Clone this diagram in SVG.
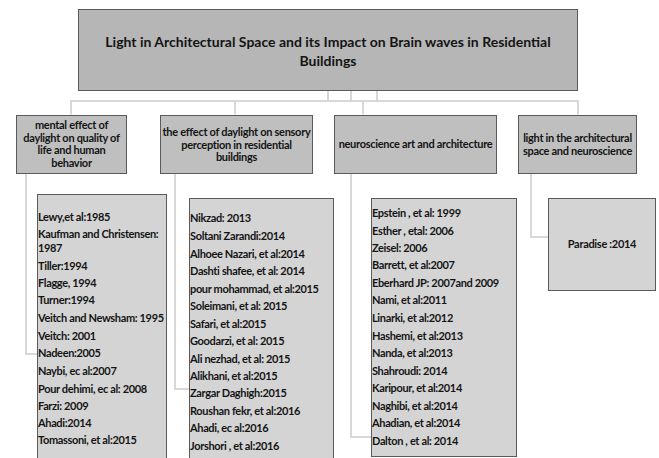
<svg xmlns="http://www.w3.org/2000/svg" width="659" height="458" viewBox="0 0 659 458">
<style>
.title{fill:#b6b6b6;stroke:#5a5a5a;stroke-width:1}
.cat{fill:#bfbfbf;stroke:#5a5a5a;stroke-width:1}
.list{fill:#d4d4d4;stroke:#5a5a5a;stroke-width:1}
text{font-family:Lato,"Liberation Sans",sans-serif;font-weight:bold;fill:#141414}
.tt{font-size:14px;text-anchor:middle}
.ct{font-size:11px;letter-spacing:-0.3px;text-anchor:middle}
.lt{font-size:11px;letter-spacing:-0.35px}
.conn{fill:none;stroke:#cccccc;stroke-width:1.5}
</style>
<rect width="659" height="458" fill="#ffffff"/>
<g id="connectors">
<path class="conn" d="M328 90.5V101M351 90.5V101M377 90.5V101M71 114.5V101H578V114.5M235 101V114.5M363 101V114.5"/>
<path class="conn" d="M26 174V354H37"/>
<path class="conn" d="M175 174V389H189"/>
<path class="conn" d="M351 174V437H371"/>
<path class="conn" d="M531 174V237H548"/>
</g>
<g id="root">
<rect class="title" x="78.5" y="9.5" width="499" height="81"/>
<text class="tt" x="328" y="47">Light in Architectural Space and its Impact on Brain waves in Residential</text>
<text class="tt" x="328" y="66">Buildings</text>
</g>
<g id="cat1">
<rect class="cat" x="16.5" y="115.5" width="110" height="58"/>
<text class="ct" x="71.5" y="129">mental effect of</text>
<text class="ct" x="71.5" y="141.5">daylight on quality of</text>
<text class="ct" x="71.5" y="154">life and human</text>
<text class="ct" x="71.5" y="166.5">behavior</text>
</g>
<g id="cat2">
<rect class="cat" x="160.5" y="115.5" width="152" height="58"/>
<text class="ct" x="236.5" y="136">the effect of daylight on sensory</text>
<text class="ct" x="236.5" y="148.5">perception in residential</text>
<text class="ct" x="236.5" y="161">buildings</text>
</g>
<g id="cat3">
<rect class="cat" x="334.5" y="115.5" width="162" height="58"/>
<text class="ct" x="415.5" y="148">neuroscience art and architecture</text>
</g>
<g id="cat4">
<rect class="cat" x="518.5" y="115.5" width="118" height="58"/>
<text class="ct" x="577.5" y="142">light in the architectural</text>
<text class="ct" x="577.5" y="155">space and neuroscience</text>
</g>
<g id="list1">
<rect class="list" x="37.5" y="194.5" width="129" height="275"/>
<text class="lt">
<tspan x="38" y="221">Lewy,et al:1985</tspan>
<tspan x="38" y="237.5">Kaufman and Christensen:</tspan>
<tspan x="38" y="251.5">1987</tspan>
<tspan x="38" y="269.5">Tiller:1994</tspan>
<tspan x="38" y="286.5">Flagge, 1994</tspan>
<tspan x="38" y="304">Turner:1994</tspan>
<tspan x="38" y="321.5">Veitch and Newsham: 1995</tspan>
<tspan x="38" y="339.5">Veitch: 2001</tspan>
<tspan x="38" y="356.5">Nadeen:2005</tspan>
<tspan x="38" y="374.5">Naybi, ec al:2007</tspan>
<tspan x="38" y="392.5">Pour dehimi, ec al: 2008</tspan>
<tspan x="38" y="409.5">Farzi: 2009</tspan>
<tspan x="38" y="426.5">Ahadi:2014</tspan>
<tspan x="38" y="443.5">Tomassoni, et al:2015</tspan>
</text>
</g>
<g id="list2">
<rect class="list" x="189.5" y="198.5" width="144" height="275"/>
<text class="lt">
<tspan x="190" y="222">Nikzad: 2013</tspan>
<tspan x="190" y="239.5">Soltani Zarandi:2014</tspan>
<tspan x="190" y="257.5">Alhoee Nazari, et al:2014</tspan>
<tspan x="190" y="274.5">Dashti shafee, et al: 2014</tspan>
<tspan x="190" y="292.5">pour mohammad, et al:2015</tspan>
<tspan x="190" y="309.5">Soleimani, et al: 2015</tspan>
<tspan x="190" y="327.5">Safari, et al:2015</tspan>
<tspan x="190" y="344.5">Goodarzi, et al: 2015</tspan>
<tspan x="190" y="362.5">Ali nezhad, et al: 2015</tspan>
<tspan x="190" y="379.5">Alikhani, et al:2015</tspan>
<tspan x="190" y="396.5">Zargar Daghigh:2015</tspan>
<tspan x="190" y="414.5">Roushan fekr, et al:2016</tspan>
<tspan x="190" y="431.5">Ahadi, ec al:2016</tspan>
<tspan x="190" y="449.5">Jorshori , et al:2016</tspan>
</text>
</g>
<g id="list3">
<rect class="list" x="371.5" y="198.5" width="145" height="258"/>
<text class="lt">
<tspan x="372" y="216.5">Epstein , et al: 1999</tspan>
<tspan x="372" y="234.5">Esther , etal:  2006</tspan>
<tspan x="372" y="251.5">Zeisel: 2006</tspan>
<tspan x="372" y="268.5">Barrett, et al:2007</tspan>
<tspan x="372" y="286.5">Eberhard JP: 2007and 2009</tspan>
<tspan x="372" y="303.5">Nami, et al:2011</tspan>
<tspan x="372" y="321.5">Linarki, et al:2012</tspan>
<tspan x="372" y="339.5">Hashemi, et al:2013</tspan>
<tspan x="372" y="356.5">Nanda, et al:2013</tspan>
<tspan x="372" y="374.5">Shahroudi: 2014</tspan>
<tspan x="372" y="391.5">Karipour, et al:2014</tspan>
<tspan x="372" y="409.5">Naghibi, et al:2014</tspan>
<tspan x="372" y="426.5">Ahadian, et al:2014</tspan>
<tspan x="372" y="444.5">Dalton , et al: 2014</tspan>
</text>
</g>
<g id="list4">
<rect class="list" x="548.5" y="198.5" width="107" height="92"/>
<text class="ct" x="602" y="248">Paradise :2014</text>
</g>
</svg>
